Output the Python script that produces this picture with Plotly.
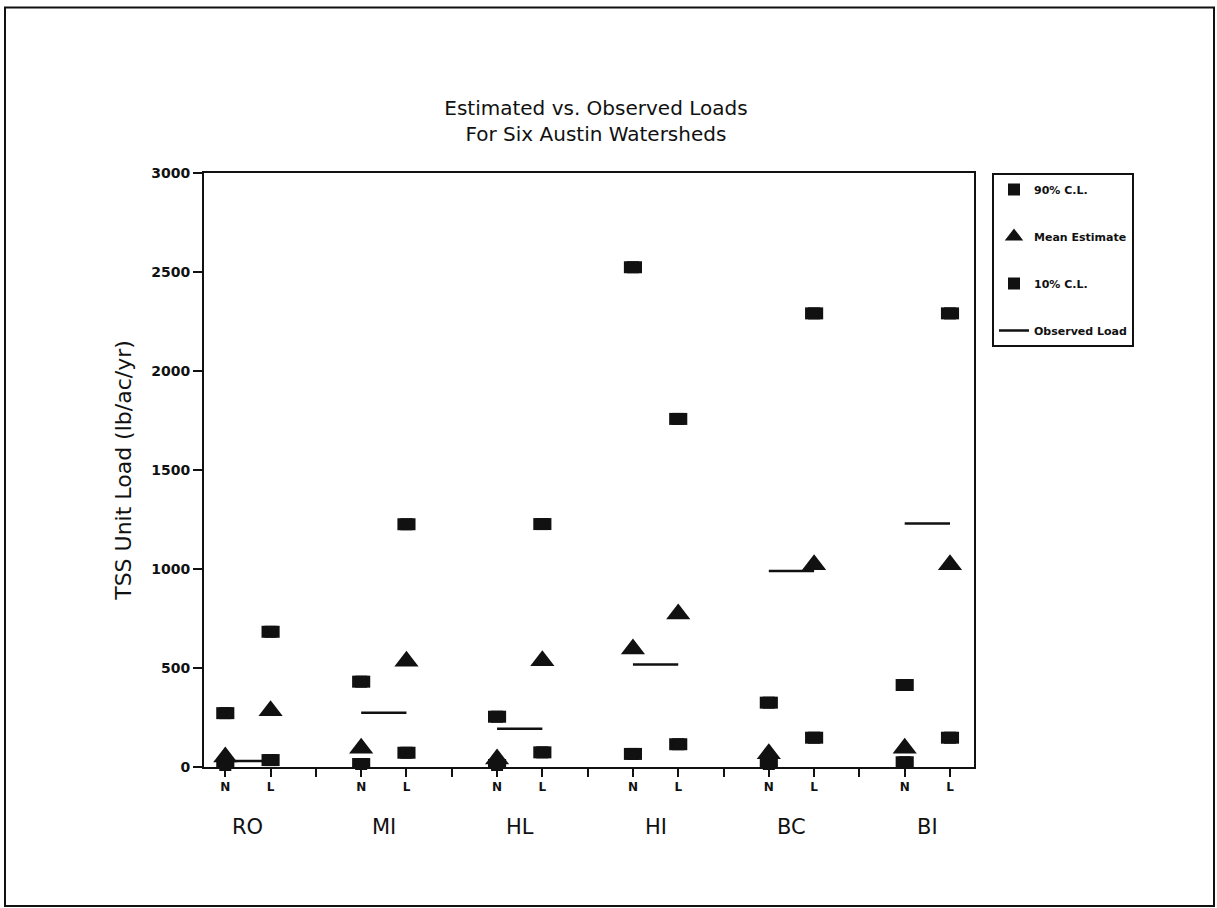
import plotly.graph_objects as go

# ---- data ----
sites = ["RO", "MI", "HL", "HI", "BC", "BI"]
land_types = ["N", "L"]

n_cl90 = [272, 431, 254, 2524, 325, 414]
n_mean = [50, 95, 40, 596, 67, 95]
n_cl10 = [10, 15, 10, 66, 15, 24]

l_cl90 = [683, 1226, 1227, 1758, 2291, 2291]
l_mean = [284, 534, 536, 773, 1022, 1022]
l_cl10 = [35, 72, 74, 115, 148, 148]

observed = [30, 274, 193, 518, 990, 1230]

y_ticks = [0, 500, 1000, 1500, 2000, 2500, 3000]

# ---- positions on a slot axis: N, L, gap for each site ----
x_n = [3 * i for i in range(len(sites))]
x_l = [3 * i + 1 for i in range(len(sites))]
x_gap = [3 * i + 2 for i in range(len(sites) - 1)]
x_all = x_n + x_l

FONT = "DejaVu Sans"
BLACK = "#111111"

fig = go.Figure()

# observed load: horizontal segment spanning N..L of each site
obs_x, obs_y = [], []
for xn, xl, v in zip(x_n, x_l, observed):
    obs_x += [xn, xl, None]
    obs_y += [v, v, None]

rect_err = dict(type="constant", value=0.2, thickness=12, width=0, color=BLACK)

fig.add_trace(go.Scatter(
    x=obs_x, y=obs_y, mode="lines", name="Observed Load",
    legendgroup="d", legendrank=4, cliponaxis=False,
    line=dict(color=BLACK, width=2.5),
))
fig.add_trace(go.Scatter(
    x=x_all, y=n_cl90 + l_cl90, mode="markers", name="90% C.L.",
    legendgroup="a", legendrank=1, cliponaxis=False,
    marker=dict(symbol="square", size=12, color=BLACK),
    error_x=rect_err,
))
fig.add_trace(go.Scatter(
    x=x_all, y=n_mean + l_mean, mode="markers", name="Mean Estimate",
    legendgroup="b", legendrank=2, cliponaxis=False,
    marker=dict(symbol="triangle-up", size=21, color=BLACK),
))
fig.add_trace(go.Scatter(
    x=x_all, y=n_cl10 + l_cl10, mode="markers", name="10% C.L.",
    legendgroup="c", legendrank=3, cliponaxis=False,
    marker=dict(symbol="square", size=12, color=BLACK),
    error_x=rect_err,
))

tick_vals = []
tick_text = []
for xn, xl in zip(x_n, x_l):
    tick_vals += [xn, xl]
    tick_text += land_types
for g in x_gap:
    tick_vals.append(g)
    tick_text.append("")

annotations = []
for s, xn, xl in zip(sites, x_n, x_l):
    annotations.append(dict(
        x=(xn + xl) / 2, y=0, xref="x", yref="paper", yshift=-60,
        text=s, showarrow=False, yanchor="middle", xanchor="center",
        font=dict(family=FONT, size=21, color=BLACK),
    ))

fig.update_layout(
    width=1217, height=908,
    margin=dict(l=204, r=243, t=173, b=141, autoexpand=False),
    paper_bgcolor="white", plot_bgcolor="white",
    font=dict(family=FONT, color=BLACK),
    title=dict(
        text="Estimated vs. Observed Loads<br>For Six Austin Watersheds",
        x=0.509, xref="paper", xanchor="center",
        y=1 - 115 / 908, yref="container", yanchor="middle",
        font=dict(family=FONT, size=20, color=BLACK),
    ),
    xaxis=dict(
        range=[-0.47, 16.53], tickmode="array", tickvals=tick_vals, ticktext=tick_text,
        ticks="outside", ticklen=8, tickwidth=2, tickcolor=BLACK,
        showline=True, linecolor=BLACK, linewidth=2, mirror=True,
        showgrid=False, zeroline=False,
        tickfont=dict(family=FONT, size=12, color=BLACK, weight="bold"),
    ),
    yaxis=dict(
        range=[0, 3000], tickmode="array", tickvals=y_ticks,
        ticks="outside", ticklen=9, tickwidth=2, tickcolor=BLACK,
        showline=True, linecolor=BLACK, linewidth=2, mirror=True,
        showgrid=False, zeroline=False,
        tickfont=dict(family=FONT, size=14, color=BLACK, weight="bold"),
        title=dict(text="TSS Unit Load (lb/ac/yr)", standoff=14,
                   font=dict(family=FONT, size=22, color=BLACK)),
    ),
    showlegend=True,
    legend=dict(
        x=(992 - 204) / 770, y=1.0, xanchor="left", yanchor="top",
        xref="paper", yref="paper",
        bordercolor=BLACK, borderwidth=2, bgcolor="white",
        traceorder="grouped", tracegroupgap=28,
        font=dict(family=FONT, size=11, color=BLACK, weight="bold"),
    ),
    annotations=annotations,
    shapes=[dict(
        type="rect", xref="paper", yref="paper",
        x0=(5 - 204) / 770, x1=(1214 - 204) / 770,
        y0=(767 - 906) / 594.3, y1=(767 - 7) / 594.3,
        line=dict(color=BLACK, width=2), fillcolor="rgba(0,0,0,0)", layer="below",
    )],
)

fig.write_html("out.html")
